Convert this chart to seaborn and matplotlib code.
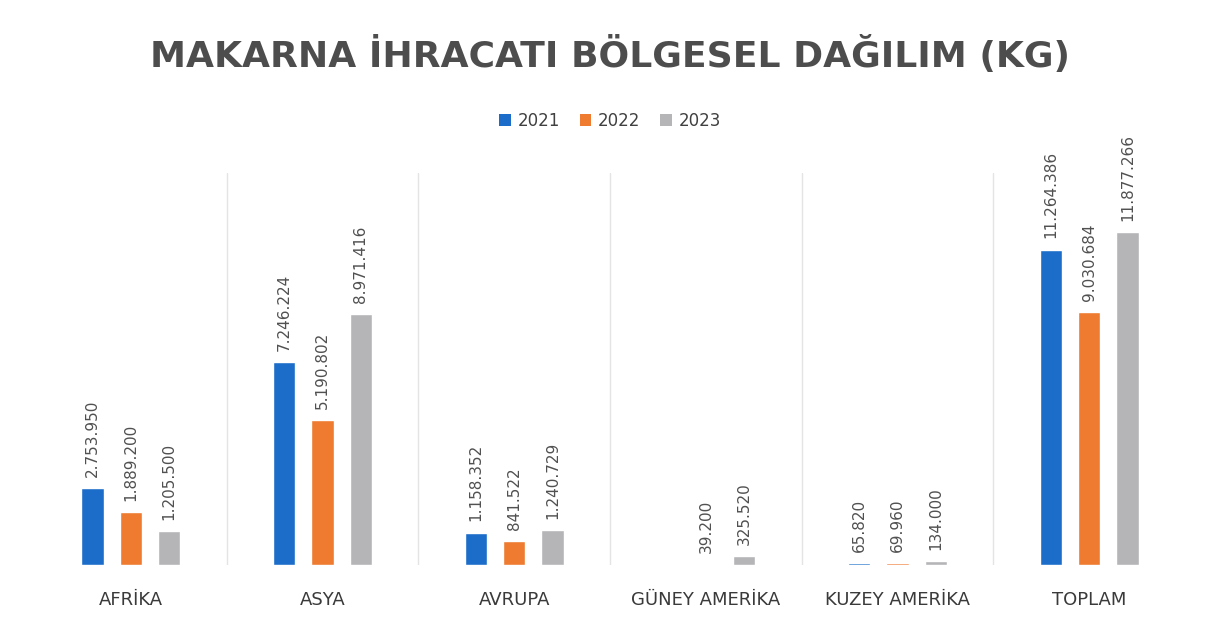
import matplotlib
matplotlib.use("Agg")
import matplotlib.pyplot as plt
import seaborn as sns
import pandas as pd
import numpy as np
from matplotlib.patches import Patch

categories = ["AFRİKA", "ASYA", "AVRUPA", "GÜNEY AMERİKA", "KUZEY AMERİKA", "TOPLAM"]
years = ["2021", "2022", "2023"]
v2021 = [2753950, 7246224, 1158352, 0, 65820, 11264386]
v2022 = [1889200, 5190802, 841522, 39200, 69960, 9030684]
v2023 = [1205500, 8971416, 1240729, 325520, 134000, 11877266]
colors = ["#1C6DC9", "#EE7B30", "#B5B5B8"]

rows = []
for y, vals in zip(years, [v2021, v2022, v2023]):
    for c, v in zip(categories, vals):
        rows.append({"Bölge": c, "Yıl": y, "KG": v})
df = pd.DataFrame(rows)

sns.set_theme(style="white")
plt.rcParams['font.family'] = ['DejaVu Sans']

fig = plt.figure(figsize=(12.2, 6.28), dpi=100)
ax = fig.add_axes([0.0287, 0.1003, 0.9426, 0.6242])

sns.barplot(data=df, x="Bölge", y="KG", hue="Yıl", order=categories, hue_order=years,
            palette=colors, width=0.6, gap=0.42, ax=ax, legend=False, saturation=1)

ax.set_ylim(0, 14000000)
ax.set_xlim(-0.5, len(categories) - 0.5)
for s in ax.spines.values():
    s.set_visible(False)
ax.set_yticks([])
ax.set_xlabel("")
ax.set_ylabel("")
ax.tick_params(axis="x", length=0, pad=19, labelsize=13, labelcolor="#3A3A3A")

for xpos in np.arange(0.5, len(categories) - 0.5, 1):
    ax.axvline(xpos, color="#E4E4E4", lw=1, zorder=0)

def fmt(v):
    return f"{int(v):,}".replace(",", ".")

for cont in ax.containers:
    for bar in cont:
        h = bar.get_height()
        if h <= 0:
            continue
        ax.annotate(fmt(h), (bar.get_x() + bar.get_width() / 2, h),
                    xytext=(0, 8), textcoords="offset points",
                    rotation=90, ha="center", va="bottom",
                    fontsize=11, color="#505050")

fig.text(0.5, 0.912, "MAKARNA İHRACATI BÖLGESEL DAĞILIM (KG)", ha="center", va="center",
         fontsize=26, fontweight="bold", color="#4D4D4D")

handles = [Patch(facecolor=c, edgecolor="none") for c in colors]
fig.legend(handles, years, loc="center", bbox_to_anchor=(0.5, 0.808), ncol=3, frameon=False,
           fontsize=12, handlelength=0.7, handleheight=0.7, handletextpad=0.4,
           columnspacing=1.2, labelcolor="#404040")

fig.savefig("out.png", dpi=100, facecolor="white")
